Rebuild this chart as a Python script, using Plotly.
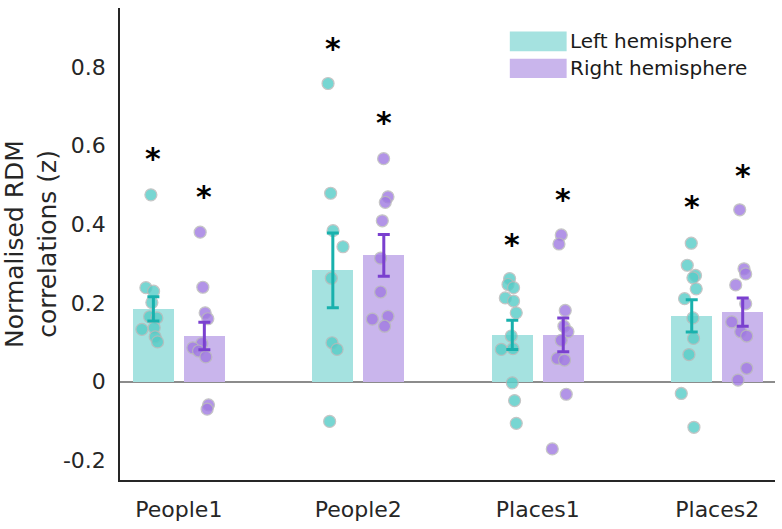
import plotly.graph_objects as go

categories = ["People1", "People2", "Places1", "Places2"]
series_names = ["Left hemisphere", "Right hemisphere"]

left_means = [0.185, 0.283, 0.119, 0.167]
right_means = [0.116, 0.321, 0.119, 0.177]
left_sem = [0.031, 0.095, 0.037, 0.041]
right_sem = [0.035, 0.053, 0.043, 0.036]

left_points = [
    [0.475, 0.239, 0.230, 0.201, 0.165, 0.162, 0.133, 0.137, 0.114, 0.101],
    [0.758, 0.479, 0.384, 0.343, 0.263, 0.099, 0.082, -0.101],
    [0.262, 0.247, 0.239, 0.213, 0.205, 0.175, 0.116, 0.082, 0.084, -0.003, -0.048, -0.106],
    [0.352, 0.296, 0.270, 0.264, 0.236, 0.211, 0.162, 0.110, 0.069, -0.030, -0.116],
]
right_points = [
    [0.380, 0.240, 0.175, 0.160, 0.097, 0.086, 0.078, 0.063, -0.059, -0.070],
    [0.567, 0.470, 0.456, 0.409, 0.314, 0.228, 0.166, 0.159, 0.141],
    [0.373, 0.350, 0.181, 0.141, 0.127, 0.105, 0.059, 0.055, -0.032, -0.171],
    [0.437, 0.287, 0.274, 0.246, 0.198, 0.152, 0.127, 0.116, 0.034, 0.004],
]
# horizontal jitter of each point (px relative to its bar centre)
left_jitter = [
    [-2.5, -7.5, 0.2, -1.5, -3.8, 3.5, -11.5, 0.8, 1.8, 4.2],
    [-4.8, -2.2, 0.2, 10.2, -1.5, -0.8, 4.2, -3.2],
    [-2.7, -4.3, 1.3, -7, 1.3, 4, -1, -11, 0.7, 0, 2.3, 4],
    [-0.5, -4.5, 3.8, 1.2, 4.5, -7.2, 1.2, 1.8, -2.8, -10.5, 2.2],
]
right_jitter = [
    [-4.2, -1.5, 0.8, 3.5, -2.5, -11.5, -5.8, 1.5, 4.2, 2.8],
    [-0.2, 4.2, 1.5, -1.5, -3.2, -3.2, 4.2, -11.5, 0.8],
    [-2, -4.3, 2, 0.7, 4.7, -2, -6, 1.3, 3, -11],
    [-3, 1.3, 3, -7, 3, -11, -2, 4, 4, -4.7],
]
# significance star heights
left_star = [0.585, 0.866, 0.367, 0.463]
right_star = [0.489, 0.676, 0.481, 0.542]

yticks = [-0.2, 0, 0.2, 0.4, 0.6, 0.8]
ytick_text = ["-0.2", "0", "0.2", "0.4", "0.6", "0.8"]

FONT = "DejaVu Sans"
OFF = 0.142
BW = 0.228
PX = 1 / 180.0

bar_cols = ["#a5e2e0", "#c9b5ec"]
pt_cols = ["#56ccc7", "#a07ae2"]
err_cols = ["#18b1ad", "#7a40cf"]

fig = go.Figure()
xs = list(range(len(categories)))
means = [left_means, right_means]
sems = [left_sem, right_sem]
pts = [left_points, right_points]
jit = [left_jitter, right_jitter]
stars = [left_star, right_star]

for s, sign in enumerate([-1, 1]):
    bx = [x + sign * OFF for x in xs]
    fig.add_trace(go.Bar(x=bx, y=means[s], width=BW, marker=dict(color=bar_cols[s], line=dict(width=0)),
                         showlegend=False, hoverinfo="skip"))

for s, sign in enumerate([-1, 1]):
    px_, py_ = [], []
    for i, x in enumerate(xs):
        for v, j in zip(pts[s][i], jit[s][i]):
            px_.append(x + sign * OFF + j * PX)
            py_.append(v)
    fig.add_trace(go.Scatter(x=px_, y=py_, mode="markers",
                             marker=dict(size=12, color=pt_cols[s], opacity=0.8,
                                         line=dict(color="#b8b8b8", width=1.2)),
                             showlegend=False, hoverinfo="skip"))

for s, sign in enumerate([-1, 1]):
    bx = [x + sign * OFF for x in xs]
    fig.add_trace(go.Scatter(x=bx, y=means[s], mode="markers", marker=dict(size=1, color="rgba(0,0,0,0)"),
                             error_y=dict(type="data", array=sems[s], color=err_cols[s], thickness=3, width=6),
                             showlegend=False, hoverinfo="skip"))
    for x, v in zip(bx, stars[s]):
        fig.add_annotation(x=x, y=v, text="<b>*</b>", showarrow=False, xanchor="center", yanchor="middle",
                           yshift=-7, font=dict(family=FONT, size=30, color="black"))

# legend (manual)
sw_y0 = [0.840, 0.772]
sw_y1 = [0.890, 0.821]
for s in range(2):
    fig.add_shape(type="rect", xref="paper", yref="y", x0=(509 - 118) / 657, x1=(566 - 118) / 657,
                  y0=sw_y0[s], y1=sw_y1[s], fillcolor=bar_cols[s], line=dict(width=0))
    fig.add_annotation(xref="paper", yref="y", x=(567 - 118) / 657, y=(sw_y0[s] + sw_y1[s]) / 2,
                       text=series_names[s], showarrow=False, xanchor="left", yanchor="middle",
                       font=dict(family=FONT, size=20, color="#1a1a1a"))

fig.update_layout(
    width=782, height=529,
    margin=dict(l=118, r=7, t=8, b=46),
    paper_bgcolor="white", plot_bgcolor="white",
    font=dict(family=FONT, color="#262626"),
    bargap=0, barmode="overlay",
)
fig.update_xaxes(range=[-0.328, 3.322], tickvals=xs, ticktext=categories, showgrid=False, zeroline=False,
                 showline=True, linecolor="#262626", linewidth=1.5, ticks="",
                 tickfont=dict(family=FONT, size=22, color="#262626"), ticklabelstandoff=9)
fig.update_yaxes(range=[-0.25, 0.95], tickvals=yticks, ticktext=ytick_text, showgrid=False,
                 zeroline=True, zerolinecolor="#8c8c8c", zerolinewidth=1.5,
                 showline=True, linecolor="#262626", linewidth=1.5, ticks="",
                 tickfont=dict(family=FONT, size=22, color="#262626"), ticklabelstandoff=8,
                 title=dict(text="Normalised RDM<br>correlations (z)", font=dict(family=FONT, size=25, color="#262626"),
                            standoff=6))
fig.write_html("out.html")
